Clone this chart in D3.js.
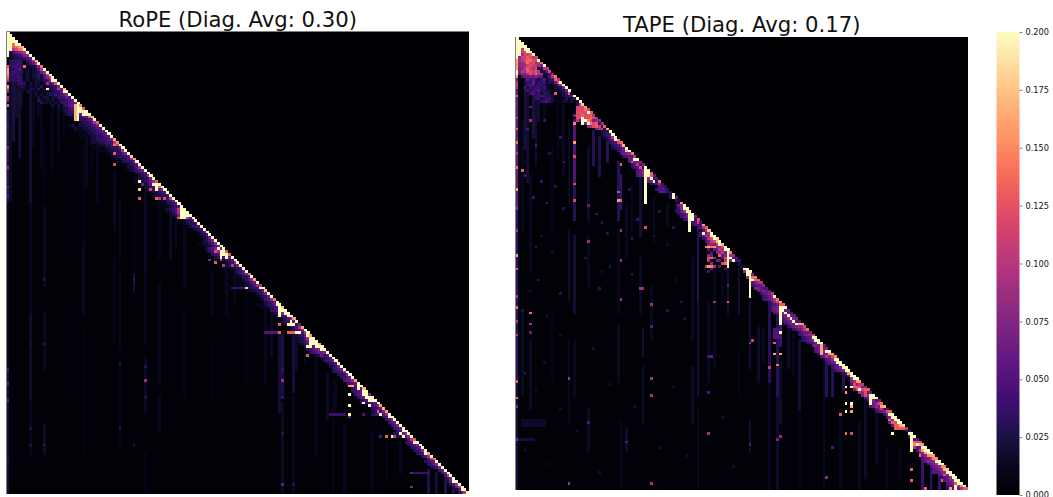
<!DOCTYPE html>
<html>
<head>
<meta charset="utf-8">
<script src="https://cdn.jsdelivr.net/npm/d3@7"></script>
<style>
  html, body { margin: 0; padding: 0; background: #fff; overflow: hidden; }
  svg { display: block; }
  text { font-family: "DejaVu Sans", sans-serif; fill: #111; }
  .cells { filter: blur(0.4px); }
</style>
</head>
<body>
<div id="chart"></div>
<script>
// 矩阵大小和色标
const cellCount = 165;
const colorMax = 0.2;
const colorbarTicks = [0, 0.025, 0.05, 0.075, 0.1, 0.125, 0.15, 0.175, 0.2];
const titles = ['RoPE (Diag. Avg: 0.30)', 'TAPE (Diag. Avg: 0.17)'];

// 对角线数值（从图上读取，超过色标上限的都按 .2 记）
const ropeDiag = [
  .2,.2,.2,.2,.2,.17,.2,.2,.2,.2, .17,.2,.14,.2,.2,.2,.2,.2,.2,.2,
  .17,.2,.2,.2,.2,.2,.15,.13,.2,.2, .17,.2,.13,.2,.2,.2,.2,.2,.16,.15,
  .2,.2,.2,.2,.18,.16,.2,.2,.2,.2, .2,.2,.2,.13,.2,.2,.2,.2,.2,.2,
  .2,.2,.2,.2,.2,.2,.2,.2,.2,.2, .2,.2,.2,.2,.2,.2,.2,.2,.13,.13,
  .2,.2,.2,.2,.2,.2,.14,.2,.16,.2, .1,.2,.17,.2,.2,.14,.2,.2,.18,.2,
  .2,.2,.16,.2,.06,.16,.2,.2,.16,.2, .2,.17,.2,.2,.2,.2,.2,.2,.2,.2,
  .2,.2,.2,.2,.16,.2,.2,.17,.2,.07, .2,.2,.2,.16,.17,.16,.2,.2,.2,.2,
  .2,.2,.2,.2,.2,.13,.2,.2,.2,.2, .16,.2,.14,.2,.2,.2,.2,.2,.2,.2,
  .2,.2,.2,.2,.2
];
const tapeDiag = [
  .2,.2,.2,.2,.2,.2,.2,.12,.2,.14, .2,.1,.12,.08,.14,.1,.2,.2,.2,.2,
  .02,.2,.2,.2,.18,.16,.12,.13,.1,.1, .08,.09,.13,.16,.2,.2,.2,.15,.14,.17,
  .2,.2,.14,.1,.2,.08,.07,.2,.2,.13, .06,.05,.14,.04,.03,.03,.03,.2,.06,.02,
  .15,.2,.2,.2,.2,.06,.12,.05,.16,.13, .17,.2,.2,.18,.2,.17,.2,.2,.15,.09,
  .05,.04,.01,.02,.2,.2,.07,.14,.13,.1, .08,.05,.06,.1,.2,.14,.16,.13,.2,.06,
  .05,.06,.07,.05,.16,.12,.14,.07,.12,.2, .2,.2,.06,.07,.2,.16,.15,.2,.2,.2,
  .2,.2,.2,.2,.2,.16,.1,.07,.13,.06, .2,.2,.06,.14,.17,.05,.13,.2,.2,.2,
  .2,.18,.1,.03,.2,.2,.06,.12,.16,.2, .2,.2,.16,.15,.2,.2,.15,.18,.2,.2,
  .2,.2,.2,.2,.13
];

// 每行对角线左边的格子，一个字符一格，从靠近对角线往左（36进制，单位 0.01）
const ropeNear = [
  '','k','kk','kk9','kee9','geda','feca8','a87643','875432','654333',
  '853034343','9642034433','74221e34443','a52212135433','8632212143443','a62422121143443','b75232212134433','k843222112134343','c6432122121344','74322131212123',
  '6a432221312212','k6432221112122','8653433212121','5644322122121','6543321212123','7654431212123','9765431212','k86542212','kk6543321','kk654332',
  'd6543321','7543321','9543321','75433221121','55433221121','65433221111','6544322111','55433221111','7544332211','a444332221',
  'b5433221111','6433221111','9433221111','75332211','5433221','9533221','6433211','543211','953221','654321',
  '54321','84321','7432211','85432211','ck532211','ek432211','7654321','5432211','4332211','a432a1',
  '6431211','5432111','5432111','ka54321','kk95321','kkc6321','6a53211','53321','43321','54321',
  '4321','532','5321','6321','75321','8532211','6532211','7k75421','kh95432','kk7543',
  '6k43321','5432a','8432111','74a32a','4322111','64321','75321','53321111','85321111','65321111',
  '8532211','k54333333','5432211','75321','64321','85421','64321','k6432111','k5432111','k6543',
  'k8632','k54321','85321','6k4321','4kkk21','9532','854321','95kk3','k64321','k9532',
  'k864321','kkk5321','kk5432','k86543','766543','54632','5432','6543','5432','7432',
  '6543','85433','7433','6543','8665','6543','k54g','6k43','k6543','kk654',
  'kk654','k6543','6543k3','854','6543','74a321','85k543','k54','854','654',
  '754','654','k54','96k33','85k33a','a5','k543','7543','6543','8543',
  'k543','953','a5','6543','7643','7432','64','74','a5','742',
  'k63','953','a63','k52','a53'
];
const tapeNear = [
  '','k','kk','k9','kb9','kcb9','dbc9a','acdbb8','bcedca9','a9cbea88',
  '79abcb988','a32c9bda87','632acbcd9a7','4229adac9786','a52166867665','84315424546','c62314342634','9521123443554','732211243443425','6321112233544343',
  'd42112123324354','54321112324543','321311112443244','21212210123543','a3','8a','e97','kcb8','dcbd9a7','ceccb9a',
  '87cfk96a','4dcek7f','4bdc98','3a97','332','5432','a5321','k5421','c5432','8543',
  '65432','h654','8765','5654','k66','67c5','4a54','3c543','k865','kc865',
  'dk8765','4k8','3k76','8543','45','5544','3565','3','k3','4',
  '21','862','k842','k9643','k7543','k6754','4k654','c54','4553','954',
  '952','96k43','k8a54','kca54','hca65','ka754','c89f9d','k9a65','f7a87','9k76d',
  '5k6c6','4k7da','3','2','k','k8','7k','ek8','dk9','9754',
  '6654','5677','6756','7654','8654','a7654','c85','d654','k8765','6k8765',
  '5k8765','6k765','7k865','5k7654','gk6754','887654','a7654','6654','87654','k6543',
  'k76543','k6543','5676','6665','k8765','g76c4','c7a65','k865','k7654','k6543',
  'k7654','k7654','g5','k5','k9','g97','a7c5','7cdd5','dckc7','6c89',
  'k8c7','k765','5765','c865','g7865','4a75','c7654','k74','k75','k8d',
  'kcd6','hdc6','a864','31','k','k5','5','cd6','gkf','k65a',
  'kga5','kg87','gf865','f9765','k87865','k9765','f8765','h9765','k87656','k7c65',
  'k9654','k8765','kd765','f9k65','d96d5'
];

// 小方块 [起始行, 结束行, 起始列, 结束列, 数值]
const ropeBlocks = [
  [0,164,0,164,.003],[0,8,0,0,.2],[0,6,1,1,.2],
  [97,101,97,97,.2],[78,80,76,76,.2],[104,104,100,102,.2],[107,107,100,102,.13],
  [108,112,108,108,.2],[64,66,62,63,.2],[53,56,53,53,.2],[26,31,25,25,.2],[26,31,24,24,.17],
  [91,91,80,84,.04],[107,107,92,97,.05],[157,157,145,150,.04],[136,136,115,120,.04]
];
const tapeBlocks = [
  [0,164,0,164,.003],[0,7,0,0,.2],[8,11,0,0,.16],[0,6,1,1,.2],
  [29,31,24,24,.2],[48,60,47,47,.2],[64,70,63,63,.2],[78,83,77,77,.2],[86,94,85,85,.2],
  [98,104,96,96,.2],[112,115,111,111,.16],[130,133,129,129,.2],[145,150,144,144,.2],
  [141,142,138,141,.13],[53,55,52,54,.05],[139,141,2,10,.015],[146,146,0,6,.02],
  [25,29,22,25,.12],[106,109,94,96,.05]
];

// 竖条纹（分段读取）[列, 起始行, 结束行, 数值]
const ropeStreaks = [
  [0,28,60,.03],[0,61,118,.012],[0,119,164,.02],
  [1,7,60,.014],[2,7,38,.022],[3,7,30,.018],[4,7,44,.02],[5,7,26,.016],
  [8,20,60,.018],[8,61,100,.012],[8,101,130,.016],[8,131,150,.012],
  [9,10,40,.012],[11,12,30,.012],[12,14,48,.01],
  [13,35,60,.008],[13,62,90,.012],[13,100,120,.012],[13,140,150,.016],
  [16,22,50,.01],[18,22,42,.012],[20,24,38,.01],
  [22,30,80,.005],[22,95,130,.006],[27,40,75,.008],[27,76,100,.012],[27,105,150,.006],
  [28,34,55,.012],[30,36,50,.01],[32,36,60,.012],
  [38,50,70,.012],[38,80,110,.008],[40,60,80,.012],[40,85,112,.012],[40,115,150,.008],
  [45,62,85,.008],[45,86,92,.02],[49,50,85,.014],[49,86,110,.01],[49,116,135,.014],[49,150,164,.008],
  [54,60,80,.01],[54,90,125,.012],[54,130,142,.012],[58,62,80,.014],[60,66,76,.012],[63,70,90,.012],[63,100,130,.008],
  [73,85,100,.01],[73,110,130,.006],[78,84,100,.012],[79,90,120,.006],[81,86,96,.012],[85,95,125,.007],
  [92,98,125,.012],[94,100,115,.014],
  [97,108,135,.02],[98,108,130,.024],[98,132,164,.014],[102,108,128,.02],[102,130,164,.012],
  [103,108,120,.015],[106,110,118,.012],[110,116,150,.01],[114,122,138,.014],[116,130,164,.01],[117,124,134,.012],[120,140,164,.012],
  [130,142,164,.01],[135,146,160,.008],[140,146,157,.012],[150,156,164,.025],[153,157,164,.02],[156,158,164,.025],[159,160,164,.025]
];
const tapeStreaks = [
  [0,14,62,.06],[0,63,124,.035],[0,125,164,.02],
  [2,30,70,.012],[2,100,130,.014],[3,15,40,.022],[4,15,52,.018],[5,50,85,.012],[5,110,135,.014],
  [6,15,36,.024],[7,15,46,.016],[8,15,30,.02],[10,9,30,.012],[11,9,24,.012],
  [13,40,70,.01],[13,100,125,.008],[15,21,44,.01],[17,21,50,.012],
  [19,30,60,.014],[19,70,95,.016],[19,110,140,.012],
  [21,30,52,.05],[21,53,66,.03],[21,72,100,.02],[21,110,130,.012],
  [26,40,66,.016],[26,72,90,.012],[26,135,150,.014],[28,34,46,.03],[30,36,50,.025],[33,38,45,.03],
  [37,45,66,.03],[37,70,100,.012],[37,105,125,.014],[38,50,62,.04],[38,140,164,.012],
  [40,60,80,.012],[40,142,150,.016],[42,53,70,.012],[45,50,72,.02],[45,80,100,.014],[46,106,116,.02],[46,120,140,.016],
  [49,90,110,.012],[50,58,74,.012],[55,60,68,.012],[64,80,110,.012],[64,120,140,.014],
  [66,70,95,.03],[66,96,130,.018],[66,135,164,.012],
  [70,96,125,.012],[72,85,100,.012],[72,95,120,.012],[75,86,96,.01],
  [77,84,100,.018],[81,80,100,.02],[81,115,130,.01],[85,96,120,.02],[85,140,150,.02],
  [88,105,125,.015],[90,106,118,.012],
  [92,94,125,.03],[92,126,164,.012],[95,100,130,.03],[95,131,164,.016],[96,104,112,.04],[96,118,140,.016],
  [99,105,120,.015],[101,108,122,.012],
  [103,110,135,.02],[103,136,164,.008],[112,115,164,.014],[113,116,130,.03],[115,118,130,.03],[118,135,164,.012],[119,120,128,.03],
  [125,140,164,.012],[127,120,160,.015],[131,134,155,.012],[135,150,164,.012],[140,150,160,.01],
  [148,152,164,.04],[151,152,164,.035],[154,154,164,.04],[157,158,164,.04]
];

// 单独的亮点 [行, 列, 数值]
const ropeSpots = [
  [120,0,.05],[125,0,.06],[131,0,.06],[152,0,.04],[33,0,.05],[41,0,.07],[48,0,.08],[55,0,.06],[58,0,.05],
  [12,0,.13],[13,0,.16],[14,0,.16],[15,0,.15],[16,0,.14],[17,0,.1],[19,0,.16],[20,0,.12],[21,0,.08],[23,0,.09],[24,0,.07],[26,0,.13],
  [18,14,.09],[20,14,.2],[40,38,.14],[43,38,.13],[47,38,.12],[53,47,.2],[56,47,.18],[59,47,.13],[54,48,.06],[53,51,.06],
  [56,51,.12],[59,53,.13],[59,56,.12],[66,61,.13],[78,74,.12],[82,74,.13],[81,72,.07],[91,85,.18],
  [104,97,.13],[107,97,.13],[107,104,.2],[112,107,.2],[115,107,.13],[113,112,.16],
  [126,122,.16],[126,123,.16],[129,122,.2],[133,122,.2],[136,122,.2],[137,122,.06],[131,129,.2],[130,129,.2],[133,129,.2],
  [135,132,.13],[144,137,.2],[144,135,.13],[144,133,.05],[136,127,.05],[162,144,.08],[157,144,.06],
  [124,49,.09],[124,98,.09],[161,98,.06],[88,45,.04],[88,13,.03],[119,49,.03],[130,49,.03],[120,98,.04],[130,98,.04],[143,98,.03],
  [161,102,.03],[111,13,.03],[147,13,.03],[118,40,.03],[141,40,.03],[147,45,.03],[111,8,.025],[141,8,.025],[147,8,.025]
];
const tapeSpots = [
  [12,0,.2],[13,0,.2],[14,0,.16],[16,0,.1],[17,0,.1],[18,0,.1],[21,0,.13],[24,0,.07],[29,0,.1],
  [33,0,.13],[38,0,.14],[42,0,.1],[47,0,.14],[55,0,.16],[62,0,.09],[70,0,.09],[79,0,.16],[84,0,.13],
  [94,0,.1],[98,0,.14],[103,0,.1],[108,0,.1],[125,0,.13],[131,0,.14],[134,0,.07],[146,0,.07],
  [15,14,.13],[20,14,.13],[25,5,.06],[30,5,.09],[48,2,.13],[31,21,.15],[38,21,.16],[43,21,.12],[53,21,.12],[59,21,.12],
  [46,38,.13],[56,37,.12],[59,37,.16],[59,38,.13],[61,26,.06],[74,26,.09],[70,38,.09],[81,38,.09],[95,38,.09],
  [69,47,.12],[91,45,.09],[91,46,.09],[96,72,.09],[96,77,.13],[90,77,.06],[97,49,.09],[105,49,.06],
  [100,5,.14],[104,5,.09],[107,5,.06],[111,94,.13],[115,94,.16],[119,95,.14],[111,85,.09],[107,96,.2],[116,71,.06],[116,70,.05],
  [124,19,.09],[162,19,.09],[124,49,.09],[130,49,.09],[162,49,.09],[129,70,.05],[144,70,.09],[115,96,.16],[145,96,.09],[146,95,.07],
  [110,86,.11],[120,92,.11],[160,113,.08],[149,115,.05],[140,26,.05],[147,40,.05],[148,85,.05],
  [127,120,.2],[127,122,.2],[129,120,.16],[133,120,.2],[133,122,.2],[134,122,.17],[136,120,.2],[136,122,.16],
  [137,118,.13],[144,120,.14],[144,122,.12],[128,127,.13],[134,133,.16],[144,137,.2],[157,144,.13],[161,144,.13],
  [161,155,.13],[164,160,.2],[164,158,.16],[164,149,.13],[152,147,.14],[151,149,.16],
  [76,69,.14],[76,70,.16],[76,71,.14],[76,72,.09],[75,70,.07],[75,71,.08],[77,70,.05],[77,72,.06],[78,71,.05],[78,74,.06],
  [79,70,.08],[79,71,.06],[80,70,.12],[80,71,.13],[80,72,.08],[81,70,.1],[81,73,.07],[81,74,.06],[82,71,.08],[82,75,.12],[82,76,.14],
  [83,69,.1],[83,70,.16],[83,71,.14],[83,72,.09],[83,74,.05],[84,71,.05],[84,76,.04],[85,70,.04],
  [72,9,.02],[78,13,.02],[85,31,.02],[92,5,.02],[99,2,.03],[101,11,.02],[108,16,.02],[113,28,.02],[118,10,.02],[122,3,.03],
  [128,7,.02],[135,16,.02],[143,22,.02],[150,3,.02],[155,11,.02],[158,30,.02],[75,55,.02],[88,58,.02],[102,61,.02],[127,57,.02],
  [138,75,.02],[152,62,.02],[156,79,.02],[126,34,.02],[134,43,.02],[149,52,.02],
  [30,10,.04],[33,4,.05],[36,16,.04],[39,7,.05],[42,12,.03],[45,17,.04],[50,3,.05],[52,9,.04],[54,14,.03],[58,6,.04],
  [60,11,.04],[62,17,.03],[64,29,.04],[67,31,.04],[71,33,.03],[73,42,.04],[76,7,.03],[80,25,.03],[83,34,.03],[86,42,.03],
  [88,8,.03],[91,30,.03],[93,16,.03],[96,60,.03],[99,55,.03],[55,41,.03],[63,52,.03],[66,44,.04],[69,57,.03],[72,50,.03]
];

const width = 1053, height = 497;
const color = d3.scaleSequential(d3.interpolateMagma).domain([0, colorMax]);
const indices = d3.range(cellCount);

// 把读取到的区域合并成矩阵，同一格取最大值
function buildCells(diag, near, blocks, streaks, spots) {
  const grid = indices.map(() => new Float32Array(cellCount));
  const put = (r, c, v) => {
    if (c >= 0 && c <= r && r < cellCount) grid[r][c] = Math.max(grid[r][c], v);
  };
  blocks.forEach(([r0, r1, c0, c1, v]) => {
    for (let r = r0; r <= r1; r++) for (let c = c0; c <= c1; c++) put(r, c, v);
  });
  streaks.forEach(([c, r0, r1, v]) => {
    for (let r = r0; r <= r1; r++) put(r, c, v);
  });
  near.forEach((str, r) => {
    [...str].forEach((ch, k) => put(r, r - k - 1, parseInt(ch, 36) / 100));
  });
  spots.forEach(([r, c, v]) => put(r, c, v));
  diag.forEach((v, i) => { grid[i][i] = v; });

  const cells = [];
  grid.forEach((row, r) => row.forEach((v, c) => { if (v > 0) cells.push({ r, c, v }); }));
  return cells;
}

const svg = d3.select('#chart').append('svg')
  .attr('width', width)
  .attr('height', height);

// 画一个热力图
function drawHeatmap(box, title, cells) {
  const x = d3.scaleBand().domain(indices).range([box.x0, box.x1]);
  const y = d3.scaleBand().domain(indices).range([box.y0, box.y1]);

  const g = svg.append('g').attr('class', 'cells');
  g.append('rect')
    .attr('x', box.x0)
    .attr('y', box.y0)
    .attr('width', box.x1 - box.x0)
    .attr('height', box.y1 - box.y0)
    .attr('fill', color(0));

  g.selectAll('rect.cell')
    .data(cells)
    .enter()
    .append('rect')
    .attr('class', 'cell')
    .attr('x', d => x(d.c))
    .attr('y', d => y(d.r))
    .attr('width', x.bandwidth() + 0.3)
    .attr('height', y.bandwidth() + 0.3)
    .attr('shape-rendering', 'crispEdges')
    .attr('fill', d => color(d.v));

  svg.append('text')
    .attr('x', (box.x0 + box.x1) / 2)
    .attr('y', box.titleY)
    .attr('text-anchor', 'middle')
    .style('font-size', '21.2px')
    .text(title);
}

drawHeatmap({ x0: 6.5, x1: 469, y0: 31.5, y1: 494, titleY: 26.5 }, titles[0],
  buildCells(ropeDiag, ropeNear, ropeBlocks, ropeStreaks, ropeSpots));
drawHeatmap({ x0: 515.5, x1: 968, y0: 37, y1: 490, titleY: 32 }, titles[1],
  buildCells(tapeDiag, tapeNear, tapeBlocks, tapeStreaks, tapeSpots));

// 色标
const barY = d3.scaleLinear().domain([0, colorMax]).range([495, 32]);
const gradient = svg.append('defs').append('linearGradient')
  .attr('id', 'magma')
  .attr('x1', 0).attr('y1', 1)
  .attr('x2', 0).attr('y2', 0);
gradient.selectAll('stop')
  .data(d3.range(0, 1.0001, 0.05))
  .enter()
  .append('stop')
  .attr('offset', d => d)
  .attr('stop-color', d => d3.interpolateMagma(d));

svg.append('rect')
  .attr('x', 996.5)
  .attr('y', 32)
  .attr('width', 23)
  .attr('height', 463)
  .attr('fill', 'url(#magma)');

const barAxis = svg.append('g')
  .attr('transform', 'translate(1019.5,0)')
  .call(d3.axisRight(barY).tickValues(colorbarTicks).tickFormat(d3.format('.3f')).tickSize(3).tickPadding(3));
barAxis.select('.domain').remove();
barAxis.selectAll('text').style('font-size', '8.2px').style('font-family', '"DejaVu Sans", sans-serif');
barAxis.selectAll('line').attr('stroke', '#333').attr('stroke-width', 0.6);
</script>
</body>
</html>
